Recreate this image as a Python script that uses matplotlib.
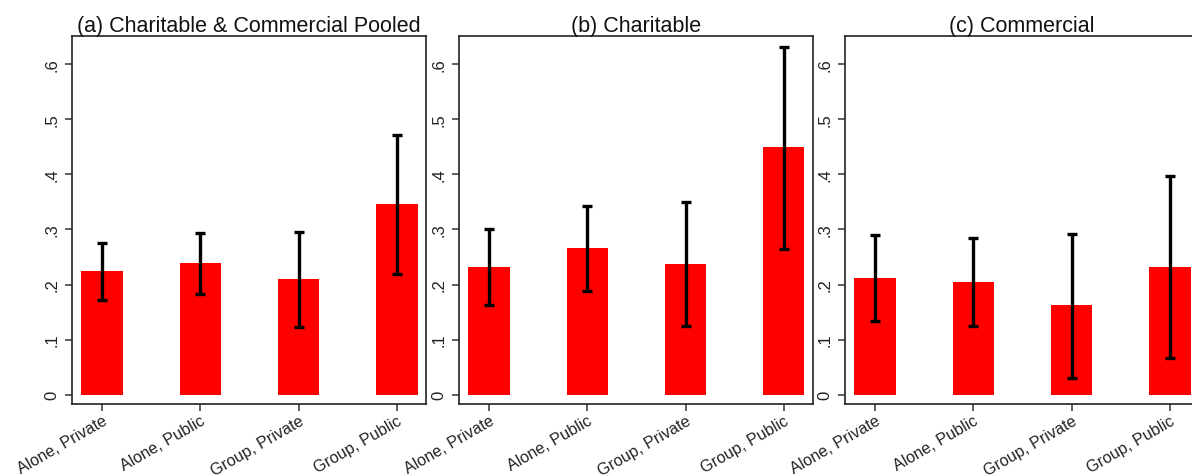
import matplotlib
matplotlib.use("Agg")
import matplotlib.pyplot as plt
import numpy as np

plt.rcParams['font.family'] = ['Liberation Sans', 'DejaVu Sans']

categories = ["Alone, Private", "Alone, Public", "Group, Private", "Group, Public"]
titles = ["(a) Charitable & Commercial Pooled", "(b) Charitable", "(c) Commercial"]

# mean and confidence interval bounds per panel
pooled_mean = [0.224, 0.239, 0.210, 0.346]
pooled_lo = [0.171, 0.183, 0.123, 0.219]
pooled_hi = [0.275, 0.294, 0.295, 0.472]

charit_mean = [0.232, 0.266, 0.237, 0.449]
charit_lo = [0.162, 0.188, 0.124, 0.264]
charit_hi = [0.300, 0.342, 0.349, 0.632]

comm_mean = [0.212, 0.204, 0.163, 0.232]
comm_lo = [0.133, 0.124, 0.030, 0.066]
comm_hi = [0.290, 0.284, 0.292, 0.397]

yticks = [0, 0.1, 0.2, 0.3, 0.4, 0.5, 0.6]
ytick_labels = ["0", ".1", ".2", ".3", ".4", ".5", ".6"]

panels = [(pooled_mean, pooled_lo, pooled_hi),
          (charit_mean, charit_lo, charit_hi),
          (comm_mean, comm_lo, comm_hi)]

fig = plt.figure(figsize=(11.92, 4.77), dpi=100)
lefts = [0.0604, 0.385, 0.709]

x = np.arange(len(categories))
for i, (m, lo, hi) in enumerate(panels):
    ax = fig.add_axes([lefts[i], 0.151, 0.297, 0.771])
    m = np.array(m)
    err = [m - np.array(lo), np.array(hi) - m]
    ax.bar(x, m, width=0.42, color='#ff0000', zorder=2)
    ax.errorbar(x, m, yerr=err, fmt='none', ecolor='black', elinewidth=2.4,
                capsize=3.8, capthick=2.4, zorder=3)
    ax.set_xlim(-0.305, 3.296)
    ax.set_ylim(-0.017, 0.651)
    ax.set_yticks(yticks)
    ax.set_yticklabels(ytick_labels, rotation=90, va='center', fontsize=12, color='#222222')
    ax.set_xticks(x)
    ax.set_xticklabels(categories, rotation=30, ha='right', va='top', rotation_mode='anchor',
                       fontsize=11.6, color='#222222')
    ax.tick_params(axis='both', length=5, width=1.1, color='#333333')
    ax.tick_params(axis='y', pad=4)
    ax.tick_params(axis='x', pad=1.2)
    for s in ax.spines.values():
        s.set_linewidth(1.2)
        s.set_color('#222222')
    ax.set_title(titles[i], fontsize=15.5, pad=2, color='#111111')

fig.savefig("out.png", dpi=100)
